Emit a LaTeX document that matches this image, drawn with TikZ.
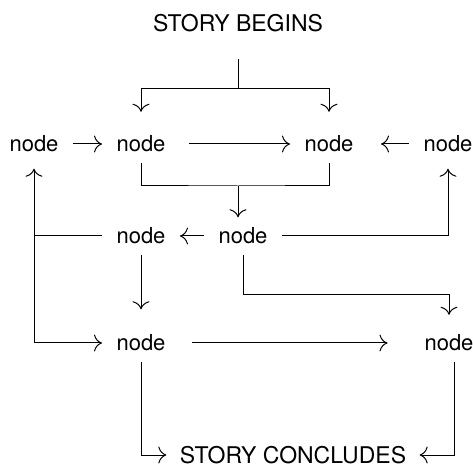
\documentclass[tikz,border=0pt]{standalone}
\usepackage{fontspec}
\setmainfont{TeX Gyre Heros}
\usetikzlibrary{arrows.meta}
\begin{document}
\begin{tikzpicture}[x=0.4pt,y=0.4pt,>={To[scale=1.3]},line width=0.4pt,
  nd/.style={inner xsep=5.6pt,inner ysep=4pt,font=\fontsize{8.8}{10}\selectfont},
  title/.style={inner xsep=5.2pt,inner ysep=4pt,font=\fontsize{9.2}{11}\selectfont}]
\useasboundingbox (0,0) rectangle (473,-465);
\node[title] (begins) at (238,-23) {STORY BEGINS};
\node[nd] (n1) at (34,-144) {node};
\node[nd] (n2) at (141,-144) {node};
\node[nd] (n3) at (329,-144) {node};
\node[nd] (n4) at (448,-144) {node};
\node[nd] (a) at (141,-236) {node};
\node[nd] (b) at (243,-236) {node};
\node[nd] (c) at (141,-343) {node};
\node[nd] (d) at (449,-343) {node};
\node[title] (ends) at (293,-455) {STORY CONCLUDES};
\coordinate (split) at (238,-89);
\coordinate (join) at (238,-186);
% top
\draw[shorten <=6.8pt] (begins.south) -- (split);
\draw[->,shorten >=5.4pt] (split) -| (n2.north);
\draw[->,shorten >=5.4pt] (split) -| (n3.north);
\draw[->] (n1) -- (n2);
\draw[->,shorten <=3.6pt] (n2) -- (n3);
\draw[->,shorten >=5.2pt] (n4) -- (n3);
% middle
\draw (n2.south) |- (join) -| (n3.south);
\draw[->] (join) -- (b.north -| join);
\draw[->] (b) -- (a);
\draw[->,shorten >=2.4pt] (a.west) -| (n1.south);
\draw[->] (n1.south |- a.west) |- (c.west);
\draw[->,shorten >=2.4pt] (b.east) -| (n4.south);
\draw[->,shorten >=3.8pt] (b.south) -- ++(0,-40) -| (d.north);
% bottom
\draw[->,shorten >=6pt] (a.south) -- (c.north);
\draw[->,shorten <=5pt,shorten >=9pt] (c) -- (d);
\draw[->] (c.south) |- (ends.west);
\draw[->] ([xshift=2pt]d.south) |- (ends.east);
\end{tikzpicture}
\end{document}
